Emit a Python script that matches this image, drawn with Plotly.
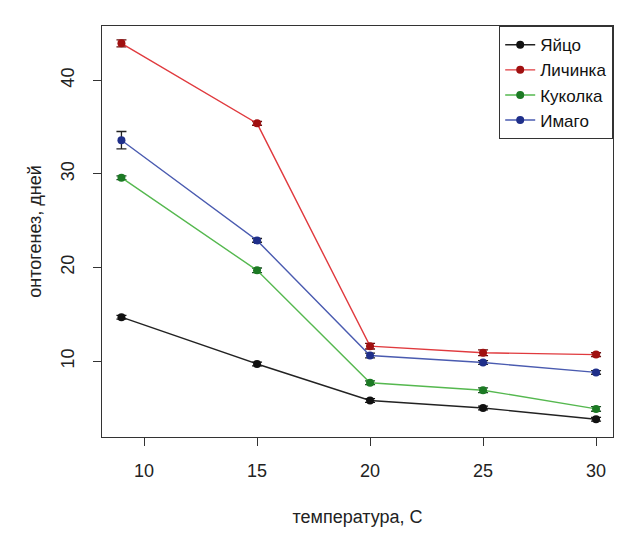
import plotly.graph_objects as go

temperature = [9, 15, 20, 25, 30]
series_names = ["Яйцо", "Личинка", "Куколка", "Имаго"]
egg = [14.7, 9.7, 5.8, 5.0, 3.8]
larva = [43.95, 35.4, 11.6, 10.9, 10.7]
pupa = [29.6, 19.7, 7.7, 6.9, 4.9]
imago = [33.6, 22.9, 10.6, 9.85, 8.8]
egg_err = [0.2, 0.2, 0.2, 0.2, 0.2]
larva_err = [0.37, 0.2, 0.3, 0.3, 0.2]
pupa_err = [0.2, 0.25, 0.2, 0.25, 0.25]
imago_err = [0.93, 0.2, 0.25, 0.2, 0.2]

line_colors = ["#222222", "#e03a3e", "#55b84f", "#4a5bb0"]
marker_colors = ["#111111", "#a01010", "#1c7a24", "#1f2f8a"]
err_colors = ["#111111", "#6a0f0f", "#1c4a24", "#222222"]

FONT = "Liberation Sans, Arial"

fig = go.Figure()
for name, ys, errs, lc, mc, ec in zip(series_names, [egg, larva, pupa, imago],
                                      [egg_err, larva_err, pupa_err, imago_err],
                                      line_colors, marker_colors, err_colors):
    fig.add_trace(go.Scatter(
        x=temperature, y=ys, name=name, mode="lines+markers",
        line=dict(color=lc, width=1.4),
        marker=dict(color=mc, size=8, symbol="circle"),
        error_y=dict(type="data", array=errs, visible=True, color=ec, thickness=1.3, width=5),
    ))

axis_common = dict(
    showgrid=False, zeroline=False, showline=True, linecolor="#333333", linewidth=1.2,
    mirror=True, ticks="outside", ticklen=8, tickcolor="#333333",
    tickfont=dict(family=FONT, size=18, color="#222222"),
    automargin=False,
)

fig.update_layout(
    width=615, height=526,
    margin=dict(l=94, r=10, t=18, b=97),
    paper_bgcolor="white", plot_bgcolor="white",
    showlegend=True,
    legend=dict(x=1.0, y=1.0, xanchor="right", yanchor="top",
                bordercolor="#333333", borderwidth=1.2, bgcolor="white",
                font=dict(family=FONT, size=17, color="#111111"),
                tracegroupgap=0, itemwidth=30),
    xaxis=dict(range=[8.14, 30.75], tickvals=[10, 15, 20, 25, 30], ticklabelstandoff=9,
               title=dict(text="температура, С", standoff=30,
                          font=dict(family=FONT, size=18, color="#222222")),
               **axis_common),
    yaxis=dict(range=[1.9, 45.8], tickvals=[10, 20, 30, 40], tickangle=-90, ticklabelstandoff=12,
               title=dict(text="онтогенез, дней", standoff=11,
                          font=dict(family=FONT, size=18, color="#222222")),
               **axis_common),
)

fig.write_html("out.html")
